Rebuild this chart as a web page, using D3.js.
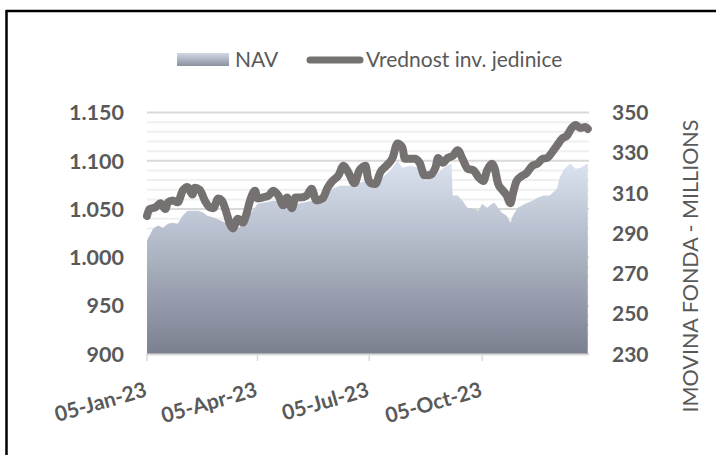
<!DOCTYPE html>
<html><head><meta charset="utf-8">
<script src="https://cdn.jsdelivr.net/npm/d3@7"></script>
<style>body{margin:0;background:#fff}svg{display:block}</style>
</head><body>
<svg id="c" width="716" height="455"></svg>
<script>
const seriesNames = ["NAV", "Vrednost inv. jedinice"];
const axisTitleRight = "IMOVINA FONDA - MILLIONS";

const unitDates = ["01-05","01-07","01-12","01-16","01-20","01-22","01-26","01-30",
"02-03","02-07","02-11","02-13","02-17","02-21","02-25","02-28",
"03-04","03-07","03-11","03-14","03-16","03-20","03-24","03-27","03-30",
"04-03","04-05","04-09","04-14","04-18","04-22","04-26","04-29",
"05-03","05-06","05-10","05-15","05-19","05-23","05-28",
"06-01","06-05","06-10","06-14","06-18","06-23","06-27",
"07-02","07-04","07-06","07-10","07-14","07-19","07-24","07-28",
"08-01","08-03","08-07","08-11","08-15","08-19","08-23","08-28","08-30",
"09-03","09-07","09-11","09-15","09-19","09-23","09-28",
"10-02","10-06","10-09","10-13","10-15","10-18","10-22","10-25","10-28","10-30",
"11-02","11-06","11-10","11-15","11-19","11-23","11-27",
"12-01","12-05","12-09","12-13","12-17","12-20","12-24","12-28","12-30"];
const unitValues = [1043,1050,1052,1056,1050,1057,1059,1057,
1069,1073,1065,1072,1070,1059,1052,1051,
1061,1059,1045,1033,1030,1040,1036,1045,1059,
1069,1061,1062,1064,1069,1064,1054,1062,
1051,1062,1062,1064,1071,1059,1061,
1072,1079,1085,1095,1088,1077,1090,
1095,1082,1077,1076,1088,1095,1103,1118,
1114,1102,1102,1102,1098,1085,1085,1093,1103,
1098,1103,1105,1111,1102,1092,1090,
1083,1079,1090,1097,1093,1076,1069,1064,1056,1066,
1079,1084,1087,1095,1097,1102,1103,
1109,1116,1123,1126,1134,1137,1134,1135,1133];

const navDates = ["01-05","01-07","01-10","01-14","01-18","01-22","01-26","01-30",
"02-03","02-07","02-11","02-16","02-20","02-23",
"03-01","03-10","03-18","03-26",
"04-05","04-18","05-07","05-20","06-01","06-11","06-22","06-27",
"07-03","07-11","07-22","07-28","08-01","08-07","08-14","08-19","08-25",
"09-01","09-06","09-10","09-11","09-15","09-19","09-23","09-28",
"10-02","10-05","10-09","10-13","10-15","10-18","10-21","10-25","10-28","10-30",
"11-03","11-09","11-15","11-19","11-24","11-29",
"12-05","12-07","12-11","12-16","12-20","12-24","12-30"];
const navValues = [286.3,288.8,292.3,293.8,292.7,294.7,295.2,294.7,
298.7,301.2,301.2,301.2,300.2,298.7,
297.7,295.2,291,296,
304.7,306.2,304.7,306.2,311.2,313.6,313.6,315.1,
316.1,315.1,321.1,326.1,322.6,323.6,322.6,316.1,317.1,
321.1,323.6,324.6,308.7,308.7,306.2,302.7,302.2,
301.2,304.7,302.7,304.7,305.2,302.7,300.2,298.7,295.2,298.7,
302.7,304.7,306.2,307.7,308.7,308.7,
312.2,317.6,322.1,324.6,322.1,322.6,324.6];

const leftTicks = [900, 950, 1000, 1050, 1100, 1150];
const rightTicks = [230, 250, 270, 290, 310, 330, 350];
const xTickDates = ["2023-01-05", "2023-04-05", "2023-07-05", "2023-10-05"];

const parse = d3.timeParse("%Y-%m-%d");
const unitData = unitDates.map((d, i) => ({date: parse("2023-" + d), v: unitValues[i]}));
const navData = navDates.map((d, i) => ({date: parse("2023-" + d), v: navValues[i]}));

const svg = d3.select("#c");
const txt = "#595959";
const font = "Lato, 'Open Sans', sans-serif";

const x = d3.scaleTime().domain([parse("2023-01-05"), parse("2023-12-31")]).range([147, 589]);
const yL = d3.scaleLinear().domain([900, 1150]).range([354, 112.5]);
const yR = d3.scaleLinear().domain([230, 350]).range([354, 112.5]);

const loc = d3.formatLocale({decimal: ",", thousands: ".", grouping: [3], currency: ["", ""]});
const fmtL = loc.format(",");
const fmtX = d3.timeFormat("%d-%b-%y");

// border
svg.append("line").attr("x1", 6).attr("x2", 716).attr("y1", 11).attr("y2", 11).attr("stroke", "#000").attr("stroke-width", 2.5);
svg.append("line").attr("x1", 6.5).attr("x2", 6.5).attr("y1", 10).attr("y2", 455).attr("stroke", "#000").attr("stroke-width", 2.5);

// gradients
const defs = svg.append("defs");
const g1 = defs.append("linearGradient").attr("id", "ag").attr("gradientUnits", "userSpaceOnUse")
  .attr("x1", 0).attr("x2", 0).attr("y1", 160).attr("y2", 354);
g1.append("stop").attr("offset", 0).attr("stop-color", "#dce4f2");
g1.append("stop").attr("offset", 1).attr("stop-color", "#7b808f");
const g2 = defs.append("linearGradient").attr("id", "lg").attr("x1", 0).attr("x2", 0).attr("y1", 0).attr("y2", 1);
g2.append("stop").attr("offset", 0).attr("stop-color", "#d2d9e6");
g2.append("stop").attr("offset", 1).attr("stop-color", "#8b909d");

// gridlines
const minor = d3.range(900, 1151, 10);
svg.append("g").selectAll("line").data(minor).join("line")
  .attr("x1", 147).attr("x2", 589)
  .attr("y1", d => yL(d)).attr("y2", d => yL(d))
  .attr("stroke", d => d % 50 === 0 ? "#d9d9d9" : "#efefef")
  .attr("stroke-width", 2);

// area
const area = d3.area().x(d => x(d.date)).y0(yR(230)).y1(d => yR(d.v)).curve(d3.curveLinear);
svg.append("path").datum(navData).attr("d", area).attr("fill", "url(#ag)");

// x axis line & ticks
svg.append("line").attr("x1", 146).attr("x2", 589).attr("y1", 354.5).attr("y2", 354.5).attr("stroke", "#d9d9d9").attr("stroke-width", 2);
const xt = xTickDates.map(parse);
svg.append("g").selectAll("line").data(xt).join("line")
  .attr("x1", d => x(d)).attr("x2", d => x(d)).attr("y1", 354).attr("y2", 361)
  .attr("stroke", "#d9d9d9").attr("stroke-width", 1.5);
svg.append("g").selectAll("text").data(xt).join("text")
  .attr("transform", d => `translate(${x(d) + 1},396) rotate(-16)`)
  .attr("text-anchor", "end").attr("font-family", font).attr("font-weight", 700)
  .attr("font-size", 21).attr("fill", txt).text(d => fmtX(d));

// line
const line = d3.line().x(d => x(d.date)).y(d => yL(d.v)).curve(d3.curveMonotoneX);
svg.append("path").datum(unitData).attr("d", line).attr("fill", "none")
  .attr("stroke", "#767171").attr("stroke-width", 8).attr("stroke-linejoin", "round").attr("stroke-linecap", "round");

// left axis labels
svg.append("g").selectAll("text").data(leftTicks).join("text")
  .attr("x", 124).attr("y", d => yL(d)).attr("dy", "0.36em")
  .attr("text-anchor", "end").attr("font-family", font).attr("font-weight", 700)
  .attr("font-size", 21.5).attr("fill", txt).text(d => fmtL(d));

// right axis labels
svg.append("g").selectAll("text").data(rightTicks).join("text")
  .attr("x", 612).attr("y", d => yR(d)).attr("dy", "0.36em")
  .attr("text-anchor", "start").attr("font-family", font).attr("font-weight", 700)
  .attr("font-size", 21).attr("fill", txt).text(d => d);

// right axis title
svg.append("text").attr("transform", "translate(698,266) rotate(-90)")
  .attr("text-anchor", "middle").attr("font-family", font).attr("font-size", 21.5)
  .attr("fill", txt).text(axisTitleRight);

// legend
svg.append("rect").attr("x", 177).attr("y", 53).attr("width", 52).attr("height", 13).attr("fill", "url(#lg)");
svg.append("text").attr("x", 235).attr("y", 67).attr("font-family", font).attr("font-size", 21)
  .attr("fill", txt).text(seriesNames[0]);
svg.append("line").attr("x1", 310).attr("x2", 360).attr("y1", 60).attr("y2", 60)
  .attr("stroke", "#767171").attr("stroke-width", 7).attr("stroke-linecap", "round");
svg.append("text").attr("x", 366).attr("y", 67).attr("font-family", font).attr("font-size", 21)
  .attr("fill", txt).text(seriesNames[1]);
</script>
</body></html>
